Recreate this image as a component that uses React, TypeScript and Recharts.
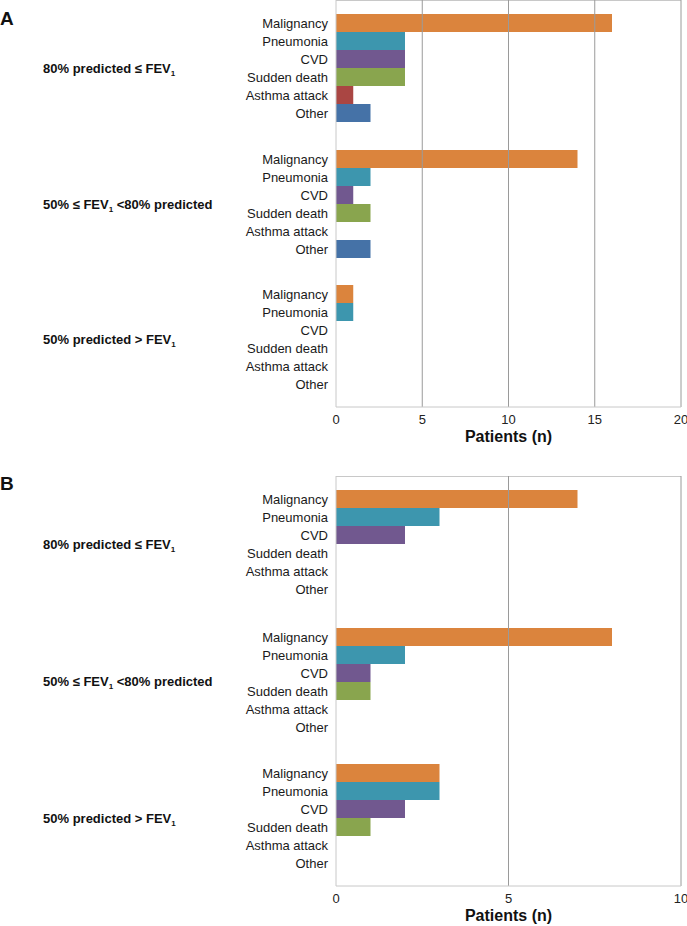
import React from 'react';
import { BarChart, Bar, XAxis, YAxis, Cell, ReferenceLine, CartesianGrid } from 'recharts';

const causes = ['Malignancy', 'Pneumonia', 'CVD', 'Sudden death', 'Asthma attack', 'Other'];
const causeColors = ['#DB843D', '#3D96AE', '#71588F', '#89A54E', '#AA4643', '#4572A7'];

// group labels: text before and after the subscript "1" of FEV1
const groupLabels: [string, string][] = [
  ['80% predicted \u2264 FEV', ''],
  ['50% \u2264 FEV', ' <80% predicted'],
  ['50% predicted > FEV', ''],
];

const panelAHigh = [16, 4, 4, 4, 1, 2];
const panelAMid = [14, 2, 1, 2, 0, 2];
const panelALow = [1, 1, 0, 0, 0, 0];
const ticksA = [0, 5, 10, 15, 20];

const panelBHigh = [7, 3, 2, 0, 0, 0];
const panelBMid = [8, 2, 1, 1, 0, 0];
const panelBLow = [3, 3, 2, 1, 0, 0];
const ticksB = [0, 5, 10];

const FONT = '"Liberation Sans", Arial, sans-serif';
const FRAME = '#c8c8c8';
const GRID = '#9a9a9a';
const ROW = 18;

type BlockProps = {
  values: number[];
  ticks: number[];
  label: [string, string];
  top: number;
  padTop: number;
  padBottom: number;
  first?: boolean;
  last?: boolean;
};

function GroupLabel({ viewBox, parts }: any) {
  const vb = viewBox || { x: 0, y: 0, height: 136 };
  const y = vb.y + vb.height / 2 + 4.5;
  return (
    <text x={43} y={y} fontSize={13} fontWeight="bold" fill="#111" fontFamily={FONT}>
      {parts[0]}
      <tspan fontSize={8} dy={3}>1</tspan>
      {parts[1] ? <tspan dy={-3}>{parts[1]}</tspan> : null}
    </text>
  );
}

function GroupBlock({ values, ticks, label, top, padTop, padBottom, first, last }: BlockProps) {
  const data = causes.map((c, i) => ({ cause: c, value: values[i] }));
  const axisH = last ? 40 : 0;
  const height = padTop + padBottom + ROW * causes.length + axisH;
  const max = ticks[ticks.length - 1];
  return (
    <div style={{ position: 'absolute', left: 0, top }}>
      <BarChart
        width={687}
        height={height}
        data={data}
        layout="vertical"
        barCategoryGap={0}
        margin={{ top: 0, right: 6, bottom: 0, left: 0 }}
      >
        {first && (
          <CartesianGrid vertical={false} horizontalPoints={[0.5]} stroke={FRAME} strokeWidth={1} />
        )}
        <XAxis
          type="number"
          domain={[0, max]}
          ticks={ticks}
          interval={0}
          hide={!last}
          height={axisH || 30}
          tickLine={false}
          axisLine={{ stroke: FRAME }}
          tick={{ fontSize: 13, fill: '#222', fontFamily: FONT }}
          label={{
            value: 'Patients (n)',
            position: 'insideBottom',
            offset: 5,
            fontSize: 16,
            fontWeight: 'bold',
            fill: '#111',
            fontFamily: FONT,
          }}
        />
        <YAxis
          type="category"
          dataKey="cause"
          width={336}
          interval={0}
          padding={{ top: padTop, bottom: padBottom }}
          tickLine={false}
          axisLine={{ stroke: FRAME }}
          tick={{ fontSize: 13, fill: '#1a1a1a', fontFamily: FONT }}
          label={(p: any) => <GroupLabel {...p} parts={label} />}
        />
        {ticks
          .filter((t) => t > 0)
          .map((t) => (
            <ReferenceLine key={t} x={t} stroke={GRID} strokeWidth={1} />
          ))}
        <Bar dataKey="value" isAnimationActive={false}>
          {data.map((d, i) => (
            <Cell key={d.cause} fill={causeColors[i]} />
          ))}
        </Bar>
      </BarChart>
    </div>
  );
}

const letterStyle: React.CSSProperties = {
  position: 'absolute',
  left: 0,
  fontSize: 19,
  fontWeight: 'bold',
  lineHeight: 1,
  fontFamily: FONT,
  color: '#111',
};

export default function App() {
  return (
    <div style={{ position: 'relative', width: 687, height: 926, fontFamily: FONT, background: '#fff' }}>
      <style>{'body{margin:0}'}</style>
      <div style={{ ...letterStyle, top: 9 }}>A</div>
      <GroupBlock values={panelAHigh} ticks={ticksA} label={groupLabels[0]} top={0} padTop={14} padBottom={14} first />
      <GroupBlock values={panelAMid} ticks={ticksA} label={groupLabels[1]} top={136} padTop={14} padBottom={14} />
      <GroupBlock values={panelALow} ticks={ticksA} label={groupLabels[2]} top={272} padTop={13} padBottom={14} last />

      <div style={{ ...letterStyle, top: 474 }}>B</div>
      <GroupBlock values={panelBHigh} ticks={ticksB} label={groupLabels[0]} top={476} padTop={14} padBottom={14} first />
      <GroupBlock values={panelBMid} ticks={ticksB} label={groupLabels[1]} top={612} padTop={16} padBottom={14} />
      <GroupBlock values={panelBLow} ticks={ticksB} label={groupLabels[2]} top={750} padTop={14} padBottom={14} last />
    </div>
  );
}
